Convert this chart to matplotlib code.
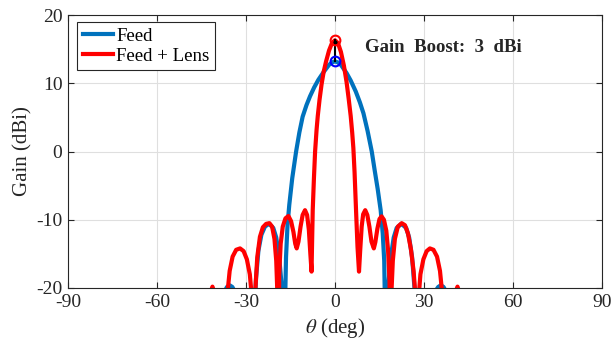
import matplotlib
matplotlib.use("Agg")
import matplotlib.pyplot as plt

# values (theta in deg, gain in dBi)
feed_theta = [-45, -40, -37.2, -36.4, -35.5, -34.6, -33.8, -31,
              -27.6, -27.2, -26.6, -25.8, -24.8, -23.6, -22.2, -20.8, -19.8, -18.8, -17.9, -17.4, -17.1,
              -16.9, -16.5, -16.0, -15.4, -14.4, -13.1, -12.0, -10.9, -9.6, -8.4, -7.0, -5.6, -3.9,
              -2.0, -1.0, 0, 1.0, 2.0, 3.9, 5.3, 7.0, 8.4, 9.6, 11.0, 12.4, 13.4, 14.4, 15.4,
              16.1, 16.6, 16.9, 17.1, 17.4, 17.9, 18.8, 19.8, 20.8, 22.4, 24.0, 25.0, 26.0, 26.8,
              27.3, 27.6, 31, 33.8, 34.8, 35.7, 36.6, 37.4, 40, 45]
feed_gain = [-40, -40, -20.5, -19.85, -19.6, -19.85, -20.5, -40,
             -40, -24, -18.5, -14.5, -12.2, -11.0, -10.6, -11.2, -12.6, -15.5, -20, -24, -40,
             -24, -15.5, -10.8, -7.8, -3.9, 0, 2.8, 5.1, 6.8, 8.1, 9.4, 10.5, 11.6,
             12.7, 13.05, 13.2, 13.05, 12.7, 11.5, 10.4, 8.8, 7.2, 5.6, 3.0, 0, -2.8, -5.5, -8.6,
             -12, -16, -24, -40, -24, -20, -15.5, -12.6, -11.2, -10.6, -11.2, -12.6, -15.5, -20,
             -24, -40, -40, -20.5, -19.85, -19.6, -19.85, -20.5, -40, -40]

lens_theta = [-45, -43, -42.2, -41.3, -40.4, -39.5,
              -36.9, -36.3, -35.5, -34.5, -33.3, -32.0, -30.8, -29.7, -28.7, -27.9, -27.3,
              -26.8, -26.2, -25.3, -24.3, -23.2, -22.1, -21.2, -20.4, -19.8, -19.4, -19.1,
              -18.8, -18.3, -17.6, -16.7, -15.7, -14.8, -14.0, -13.4, -12.9, -12.3, -11.6,
              -10.9, -10.1, -9.4, -8.8, -8.3, -7.9, -7.7, -7.5, -7.1, -6.7, -6.2, -5.8, -5.2,
              -4.5, -3.8, -3.0, -2.0, -1.0, 0, 1.0, 2.0, 3.0, 3.9, 4.6, 5.3, 5.8, 6.2, 6.6,
              7.1, 7.6, 8.1, 8.5, 9.0, 9.5, 10.2, 10.9, 11.6, 12.3, 13.1, 13.6, 14.3, 15.0,
              15.7, 16.5, 17.3, 17.9, 18.4, 18.7, 19.0, 19.5, 20.2, 21.2, 22.5, 23.6, 24.6,
              25.6, 26.5, 27.1, 27.5, 28.1, 28.8, 29.8, 30.9, 32.0, 33.2, 34.4, 35.4, 36.2,
              36.7, 39.4, 40.3, 41.3, 42.2, 43, 45]
lens_gain = [-35, -35, -21, -19.8, -21, -35,
             -35, -21, -17.5, -15.4, -14.4, -14.2, -14.6, -15.8, -18.0, -22, -35,
             -20, -15.5, -12.5, -11.1, -10.6, -10.5, -11.0, -12.8, -16, -21, -35,
             -18, -13.5, -11, -9.8, -9.45, -10.2, -11.8, -13.5, -14.2, -13.2, -11.0,
             -9.3, -8.6, -9.3, -11.5, -15.0, -17.6, -13, -8.6, -4, 0, 3.2, 5.2, 7.6,
             9.9, 11.7, 13.2, 14.8, 15.9, 16.3, 15.9, 14.6, 12.6, 10.2, 7.8, 5.2, 2.8, 0.5, -3,
             -8.6, -14, -17.6, -14.5, -11, -9.2, -8.6, -9.3, -11.0, -13.2, -14.2, -13.3, -11.3, -9.9,
             -9.5, -10.0, -11.6, -14.5, -19, -35, -21, -16, -12.8, -11.0, -10.5, -10.8, -12.0,
             -14.3, -17.5, -21, -35, -22, -18, -15.8, -14.6, -14.2, -14.4, -15.4, -17.5, -21,
             -35, -35, -21, -19.8, -21, -35, -35]

peak_feed = 13.2
peak_lens = 16.3
x_ticks = [-90, -60, -30, 0, 30, 60, 90]
y_ticks = [-20, -10, 0, 10, 20]

plt.rcParams['font.family'] = ['Liberation Serif', 'DejaVu Serif']
plt.rcParams['mathtext.fontset'] = 'stix'

fig = plt.figure(figsize=(6.13, 3.49), dpi=100)
ax = fig.add_axes([0.1109, 0.1748, 0.8711, 0.7822])

ax.plot(feed_theta, feed_gain, color='#0072BD', lw=3, label='Feed', solid_joinstyle='round')
ax.plot(lens_theta, lens_gain, color='#FF0000', lw=3, label='Feed + Lens', solid_joinstyle='round')
ax.plot([0, 0], [peak_feed, peak_lens], color='k', lw=1.5, zorder=4)
ax.plot([0], [peak_lens - 0.2], 'k.', ms=4, zorder=5)
ax.plot([0], [peak_lens], 'o', mfc='none', mec='#FF0000', mew=1.5, ms=7, zorder=5)
ax.plot([0], [peak_feed], 'o', mfc='none', mec='#0000FF', mew=1.5, ms=7, zorder=5)

ax.text(10.0, 15.3, 'Gain  Boost:  3  dBi', fontsize=13.5, fontweight='bold',
        va='center', ha='left', color='#262626')

ax.set_xlim(-90, 90)
ax.set_ylim(-20, 20)
ax.set_xticks(x_ticks)
ax.set_yticks(y_ticks)
ax.set_xticklabels([str(t) for t in x_ticks])
ax.set_yticklabels([str(t) for t in y_ticks])
ax.tick_params(direction='in', top=True, right=True, labelsize=14, colors='#262626',
               length=4, pad=4)
ax.grid(True, color='#DFDFDF', lw=0.8)
ax.set_axisbelow(True)
for s in ax.spines.values():
    s.set_color('#262626')
    s.set_linewidth(0.8)

ax.set_xlabel(r'$\theta$ (deg)', fontsize=15, color='#262626', labelpad=4)
ax.set_ylabel('Gain (dBi)', fontsize=15, color='#262626', labelpad=3)

leg = ax.legend(loc='upper left', bbox_to_anchor=(0.017, 0.974), borderaxespad=0,
                fontsize=13.5, fancybox=False, framealpha=1, edgecolor='#262626',
                handlelength=1.6, handletextpad=0.2, borderpad=0.3, labelspacing=0.15)
leg.get_frame().set_linewidth(0.8)

fig.savefig('out.png', dpi=100)
